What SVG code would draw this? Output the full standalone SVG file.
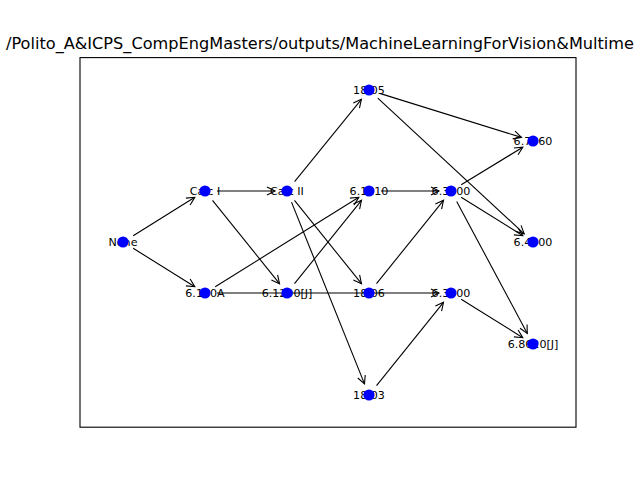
<svg xmlns="http://www.w3.org/2000/svg" width="640" height="480" viewBox="0 0 640 480">
<defs>
<marker id="arr" markerUnits="userSpaceOnUse" markerWidth="12" markerHeight="12" viewBox="-10 -6 12 12" refX="0" refY="0" orient="auto">
<path d="M-8,-4 L0,0 L-8,4" fill="none" stroke="#000" stroke-width="1.1"/>
</marker>
</defs>
<style>
.e{stroke:#000;stroke-width:1.1;fill:none;marker-end:url(#arr)}
.n circle{fill:#0000ff}
.n text{font-family:"DejaVu Sans",sans-serif;font-size:11.1px;text-anchor:middle;fill:#000}
.t{font-family:"DejaVu Sans",sans-serif;font-size:16.2px;fill:#000}
</style>
<rect x="0" y="0" width="640" height="480" fill="#fff"/>
<text class="t" x="320" y="49" text-anchor="middle" textLength="628" lengthAdjust="spacingAndGlyphs">/Polito_A&amp;ICPS_CompEngMasters/outputs/MachineLearningForVision&amp;Multime</text>
<rect x="80" y="57.6" width="496" height="369.6" fill="none" stroke="#000" stroke-width="1.1"/>
<g id="edges">
<line class="e" x1="133.2" y1="235.7" x2="194.8" y2="197.3"/>
<line class="e" x1="133.2" y1="248.3" x2="194.8" y2="286.7"/>
<line class="e" x1="217" y1="191" x2="275" y2="191"/>
<line class="e" x1="212.5" y1="200.3" x2="279.5" y2="283.7"/>
<line class="e" x1="215.2" y1="286.7" x2="358.8" y2="197.3"/>
<line class="e" x1="217" y1="293" x2="439" y2="293"/>
<line class="e" x1="294.6" y1="181.7" x2="361.4" y2="99.3"/>
<line class="e" x1="294.5" y1="200.3" x2="361.5" y2="283.7"/>
<line class="e" x1="291.5" y1="202.1" x2="364.5" y2="383.9"/>
<line class="e" x1="294.5" y1="283.7" x2="361.5" y2="200.3"/>
<line class="e" x1="381" y1="191" x2="439" y2="191"/>
<line class="e" x1="376.5" y1="283.7" x2="443.5" y2="200.3"/>
<line class="e" x1="376.5" y1="385.7" x2="443.5" y2="302.3"/>
<line class="e" x1="380.5" y1="93.6" x2="521.5" y2="137.4"/>
<line class="e" x1="377.8" y1="98.2" x2="524.2" y2="233.8"/>
<line class="e" x1="461.2" y1="184.8" x2="522.8" y2="147.2"/>
<line class="e" x1="461.2" y1="197.3" x2="522.8" y2="235.7"/>
<line class="e" x1="456.7" y1="201.6" x2="527.3" y2="333.4"/>
<line class="e" x1="461.2" y1="299.3" x2="522.8" y2="337.7"/>
</g>
<g id="n_none" class="n"><text x="123" y="245.5">None</text><circle cx="123" cy="242" r="5.6"/></g>
<g id="n_calc1" class="n"><text x="205" y="194.5">Calc I</text><circle cx="205" cy="191" r="5.6"/></g>
<g id="n_6100a" class="n"><text x="205" y="296.5">6.100A</text><circle cx="205" cy="293" r="5.6"/></g>
<g id="n_calc2" class="n"><text x="287" y="194.5">Calc II</text><circle cx="287" cy="191" r="5.6"/></g>
<g id="n_61200j" class="n"><text x="287" y="296.5">6.1200[J]</text><circle cx="287" cy="293" r="5.6"/></g>
<g id="n_1805" class="n"><text x="369" y="93.5">18.05</text><circle cx="369" cy="90" r="5.6"/></g>
<g id="n_61210" class="n"><text x="369" y="194.5">6.1210</text><circle cx="369" cy="191" r="5.6"/></g>
<g id="n_1806" class="n"><text x="369" y="296.5">18.06</text><circle cx="369" cy="293" r="5.6"/></g>
<g id="n_1803" class="n"><text x="369" y="398.5">18.03</text><circle cx="369" cy="395" r="5.6"/></g>
<g id="n_63900" class="n"><text x="451" y="194.5">6.3900</text><circle cx="451" cy="191" r="5.6"/></g>
<g id="n_63000" class="n"><text x="451" y="296.5">6.3000</text><circle cx="451" cy="293" r="5.6"/></g>
<g id="n_67960" class="n"><text x="533" y="144.5">6.7960</text><circle cx="533" cy="141" r="5.6"/></g>
<g id="n_64400" class="n"><text x="533" y="245.5">6.4400</text><circle cx="533" cy="242" r="5.6"/></g>
<g id="n_68620j" class="n"><text x="533" y="347.5">6.8620[J]</text><circle cx="533" cy="344" r="5.6"/></g>
</svg>
